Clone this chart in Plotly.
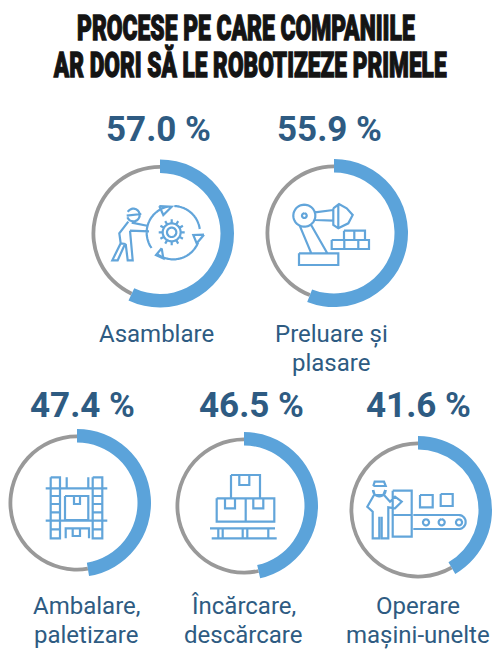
import numpy as np
import plotly.graph_objects as go

title_lines = ["PROCESE PE CARE COMPANIILE", "AR DORI SĂ LE ROBOTIZEZE PRIMELE"]
categories = ["Asamblare", "Preluare și<br>plasare", "Ambalare,<br>paletizare",
              "Încărcare,<br>descărcare", "Operare<br>mașini-unelte"]
values = [57.0, 55.9, 47.4, 46.5, 41.6]

W, H = 500, 657
BLUE = "#5ba3da"
GRAY = "#999999"
NAVY = "#2e5b82"
ICON = "#62a5da"
centers = [(160, 233.5), (334, 233), (77, 503), (244, 506), (418, 510)]
value_pos = [(158.5, 129), (329.5, 129), (82, 405), (251.5, 405), (418.5, 405)]
label_pos = [(156, 334), (331, 334), (86, 606), (243, 606), (418, 606)]
LABEL_STEP = 29
R_OUT, R_IN, G_OUT, G_IN = 74, 60.5, 68.5, 64.7


def dom(c, r):
    return dict(x=[(c[0] - r) / W, (c[0] + r) / W],
                y=[1 - (c[1] + r) / H, 1 - (c[1] - r) / H])


fig = go.Figure()
# invisible trace that keeps the pixel-sized cartesian frame used by the icons
fig.add_trace(go.Scatter(x=[0, W], y=[0, H], mode="none", hoverinfo="skip", showlegend=False))
for c, v in zip(centers, values):
    fig.add_trace(go.Pie(values=[v, 100 - v], sort=False, direction="clockwise", rotation=0,
                         hole=G_IN / G_OUT, domain=dom(c, G_OUT), textinfo="none",
                         hoverinfo="skip", showlegend=False,
                         marker=dict(colors=["rgba(0,0,0,0)", GRAY], line=dict(width=0))))
    fig.add_trace(go.Pie(values=[v, 100 - v], sort=False, direction="clockwise", rotation=0,
                         hole=R_IN / R_OUT, domain=dom(c, R_OUT), textinfo="none",
                         hoverinfo="skip", showlegend=False,
                         marker=dict(colors=[BLUE, "rgba(0,0,0,0)"], line=dict(width=0))))


def arc(cx, cy, r, a0=0, a1=360, n=48):
    t = np.radians(np.linspace(a0, a1, n))
    return list(zip(cx + r * np.sin(t), cy - r * np.cos(t)))


def rect(x0, y0, x1, y1):
    return [(x0, y0), (x1, y0), (x1, y1), (x0, y1), (x0, y0)]


def seg(x0, y0, x1, y1):
    return [(x0, y0), (x1, y1)]


def add_icon(ox, oy, polys, width=2.2):
    d = ""
    for p in polys:
        d += "M" + " L".join(f"{ox + x / 3:.1f},{oy + y / 3:.1f}" for x, y in p) + " "
    fig.add_shape(type="path", path=d, xref="x", yref="y",
                  line=dict(color=ICON, width=width), layer="above")


# Icon 1: worker turning a gear
gear = [arc(275, 397, 27), arc(275, 397, 14)]
gear += [[(275 + 27 * np.sin(a), 397 - 27 * np.cos(a)), (275 + 39 * np.sin(a), 397 - 39 * np.cos(a))]
         for a in np.radians(np.arange(0, 360, 30))]
add_icon(80, 100, gear + [
    arc(160, 345, 19, -60, 250), seg(140, 347, 184, 342),
    [(145, 365), (118, 400), (122, 430), (97, 481), (113, 481), (135, 432)],
    [(155, 368), (205, 378)], [(150, 392), (207, 394)], [(150, 392), (158, 481), (143, 481), (137, 432)],
    [(122, 430), (137, 432)],
    arc(280, 398, 80, 2, 82), [(372, 404), (350, 430), (340, 405), (372, 404)],
    arc(280, 398, 80, 112, 215), [(245, 445), (228, 465), (250, 475), (245, 445)],
    arc(280, 398, 80, 235, 348), [(238, 318), (275, 320), (250, 345), (238, 318)],
])

# Icon 2: robot arm placing bricks
add_icon(255, 100, [
    arc(148, 347, 33), arc(148, 347, 7),
    seg(180, 337, 235, 330), seg(181, 360, 235, 362),
    [(235, 325), (252, 312), (275, 325), (293, 345), (280, 370), (250, 385), (235, 375), (235, 325)],
    seg(250, 314, 250, 384),
    seg(135, 379, 168, 458), seg(167, 373, 216, 458),
    rect(132, 460, 250, 495),
    rect(267, 392, 330, 420), seg(298, 392, 298, 420),
    rect(230, 420, 342, 447), seg(268, 420, 268, 447), seg(310, 420, 310, 447),
])

# Icon 3: palletising frame
add_icon(0, 430, [
    rect(152, 142, 180, 325), rect(278, 142, 307, 325),
    seg(137, 175, 322, 175), seg(137, 272, 322, 272),
    seg(152, 198, 180, 198), seg(152, 222, 180, 222), seg(152, 247, 180, 247), seg(152, 298, 180, 298),
    seg(278, 198, 307, 198), seg(278, 222, 307, 222), seg(278, 247, 307, 247), seg(278, 298, 307, 298),
    seg(200, 142, 200, 175), seg(265, 142, 265, 175),
    rect(195, 198, 265, 270), [(222, 198), (222, 222), (240, 222), (240, 198)],
    [(197, 325), (197, 295), (267, 295), (267, 325)],
    [(218, 295), (218, 318), (240, 318), (240, 295)],
])

# Icon 4: boxes on a pallet
add_icon(170, 430, [
    rect(183, 135, 270, 205), [(208, 135), (208, 165), (238, 165), (238, 135)],
    rect(140, 205, 227, 275), [(165, 205), (165, 235), (195, 235), (195, 205)],
    rect(227, 205, 313, 275), [(250, 205), (250, 235), (280, 235), (280, 205)],
    seg(120, 295, 315, 295), seg(125, 325, 320, 325),
    seg(145, 295, 145, 325), seg(158, 295, 158, 325), seg(218, 295, 218, 325),
    seg(232, 295, 232, 325), seg(295, 295, 295, 325),
])

# Icon 5: operator at a conveyor
add_icon(340, 430, [
    arc(118, 180, 19, 90, 270), [(100, 168), (104, 155), (132, 155), (137, 168), (100, 168)],
    [(100, 180), (104, 195), (130, 195), (136, 180)],
    [(102, 195), (82, 230), (98, 245), (98, 325), (118, 325), (118, 260)],
    [(125, 260), (125, 325), (145, 325), (145, 232), (165, 235), (185, 215), (165, 200), (150, 215), (132, 195)],
    rect(158, 182, 215, 320), seg(158, 255, 215, 255),
    rect(240, 195, 278, 232), rect(302, 192, 338, 228),
    [(220, 255), (356, 255)] + arc(356, 276, 21, 0, 180, 20) + [(220, 297)],
    arc(258, 277, 9), arc(305, 277, 9), arc(357, 277, 9),
])

anns = []
title_y = [28, 65]
for t, y in zip(title_lines, title_y):
    anns.append(dict(x=250, y=y, text=t, showarrow=False, xanchor="center", yanchor="middle",
                     font=dict(family="Roboto", size=35, color="#141414", weight=900)))
for (x, y), v in zip(value_pos, values):
    anns.append(dict(x=x, y=y, text=f"{v:.1f} %", showarrow=False, xanchor="center", yanchor="middle",
                     font=dict(family="Roboto", size=35, color=NAVY, weight="bold")))
for (x, y), c in zip(label_pos, categories):
    for j, line in enumerate(c.split("<br>")):
        anns.append(dict(x=x, y=y + j * LABEL_STEP, text=line, showarrow=False, xanchor="center", yanchor="middle",
                         font=dict(family="Roboto", size=24, color=NAVY)))

fig.update_layout(width=W, height=H, margin=dict(l=0, r=0, t=0, b=0), autosize=False,
                  paper_bgcolor="white", plot_bgcolor="white", showlegend=False,
                  xaxis=dict(range=[0, W], visible=False, fixedrange=True),
                  yaxis=dict(range=[H, 0], visible=False, fixedrange=True),
                  annotations=anns)

# The reference title is set in a heavy condensed face; none is installed, so the
# two real text lines are squeezed horizontally to the reference's widths and thickened.
squeeze = """
document.body.style.margin='0';
var spans = {'PROCESE PE CARE COMPANIILE':[77,415],'AR DORI SĂ LE ROBOTIZEZE PRIMELE':[53,447]};
document.querySelectorAll('text.annotation-text').forEach(function(t){
  var s = spans[t.textContent]; if(!s) return;
  var b = t.getBBox(), k = (s[1]-s[0])/b.width, cx = b.x+b.width/2, c = (s[0]+s[1])/2;
  var ctm = t.getCTM();
  var offs = ctm ? ctm.e : 0;
  t.setAttribute('transform','translate('+(c-offs)+',0) scale('+k+',1) translate('+(-cx)+',0)');
  t.style.stroke='#141414'; t.style.strokeWidth='1.3px';
});
"""
fig.write_html("out.html", config=dict(displayModeBar=False), post_script=squeeze)
